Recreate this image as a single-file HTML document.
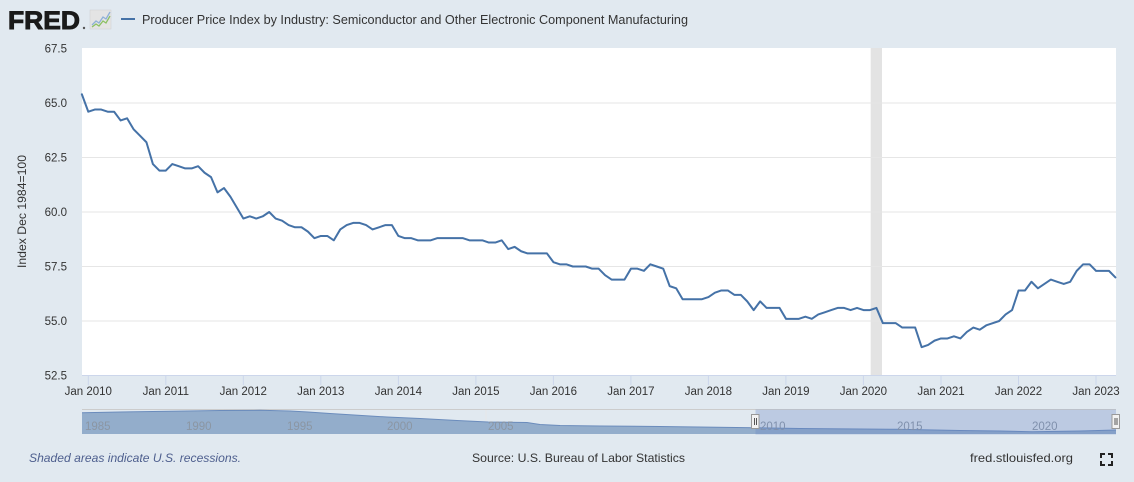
<!DOCTYPE html>
<html><head><meta charset="utf-8">
<style>
html,body{margin:0;padding:0;background:#e1e9f0;}
svg{display:block;font-family:"Liberation Sans",sans-serif;}
</style></head>
<body>
<svg width="1134" height="482" viewBox="0 0 1134 482" xmlns="http://www.w3.org/2000/svg">
<rect x="0" y="0" width="1134" height="482" fill="#e1e9f0"/>
<!-- header -->
<text x="8" y="29" font-size="25" font-weight="bold" fill="#1a1a1a" stroke="#1a1a1a" stroke-width="0.9" textLength="72" lengthAdjust="spacingAndGlyphs">FRED</text>
<circle cx="84" cy="28" r="1.2" fill="#555"/>
<rect x="90" y="10" width="21" height="19" fill="#e4e4e4" stroke="#d0d0d0" stroke-width="0.5"/>
<polyline points="92,25 96,21 99,23 103,17 106,19 110,12" fill="none" stroke="#8fb0d8" stroke-width="1.3"/>
<polyline points="92,27 96,24 99,26 103,21 106,23 110,16" fill="none" stroke="#8cc063" stroke-width="1.3"/>
<line x1="121" y1="19" x2="135" y2="19" stroke="#4572a7" stroke-width="2"/>
<text x="142" y="24" font-size="13" fill="#333" textLength="546" lengthAdjust="spacingAndGlyphs">Producer Price Index by Industry: Semiconductor and Other Electronic Component Manufacturing</text>

<!-- plot area -->
<rect x="82" y="48" width="1034" height="327.5" fill="#ffffff"/>
<rect x="870.7" y="48" width="11.3" height="327.5" fill="#e3e3e3"/>
<g stroke="#e6e6e6" stroke-width="1">
<line x1="82" y1="103" x2="1116" y2="103"/>
<line x1="82" y1="157.5" x2="1116" y2="157.5"/>
<line x1="82" y1="212" x2="1116" y2="212"/>
<line x1="82" y1="266.5" x2="1116" y2="266.5"/>
<line x1="82" y1="321" x2="1116" y2="321"/>
</g>
<line x1="82" y1="375.5" x2="1116" y2="375.5" stroke="#ccd6eb" stroke-width="1"/>
<g stroke="#ccd6eb" stroke-width="1">
<line x1="88.3" y1="375.5" x2="88.3" y2="385"/>
<line x1="165.8" y1="375.5" x2="165.8" y2="385"/>
<line x1="243.3" y1="375.5" x2="243.3" y2="385"/>
<line x1="320.8" y1="375.5" x2="320.8" y2="385"/>
<line x1="398.4" y1="375.5" x2="398.4" y2="385"/>
<line x1="475.9" y1="375.5" x2="475.9" y2="385"/>
<line x1="553.4" y1="375.5" x2="553.4" y2="385"/>
<line x1="630.9" y1="375.5" x2="630.9" y2="385"/>
<line x1="708.4" y1="375.5" x2="708.4" y2="385"/>
<line x1="785.9" y1="375.5" x2="785.9" y2="385"/>
<line x1="863.4" y1="375.5" x2="863.4" y2="385"/>
<line x1="941.0" y1="375.5" x2="941.0" y2="385"/>
<line x1="1018.5" y1="375.5" x2="1018.5" y2="385"/>
<line x1="1096.0" y1="375.5" x2="1096.0" y2="385"/>
</g>
<!-- y labels -->
<g font-size="11.5" fill="#333" text-anchor="end">
<text x="67" y="52.5">67.5</text>
<text x="67" y="107">65.0</text>
<text x="67" y="161.5">62.5</text>
<text x="67" y="216">60.0</text>
<text x="67" y="270.5">57.5</text>
<text x="67" y="325">55.0</text>
<text x="67" y="379.5">52.5</text>
</g>
<text transform="translate(26,211.5) rotate(-90)" font-size="12" fill="#333" text-anchor="middle" textLength="113" lengthAdjust="spacingAndGlyphs">Index Dec 1984=100</text>
<!-- x labels -->
<g font-size="11.5" fill="#333" text-anchor="middle">
<text x="88.3" y="395">Jan 2010</text>
<text x="165.8" y="395">Jan 2011</text>
<text x="243.3" y="395">Jan 2012</text>
<text x="320.8" y="395">Jan 2013</text>
<text x="398.4" y="395">Jan 2014</text>
<text x="475.9" y="395">Jan 2015</text>
<text x="553.4" y="395">Jan 2016</text>
<text x="630.9" y="395">Jan 2017</text>
<text x="708.4" y="395">Jan 2018</text>
<text x="785.9" y="395">Jan 2019</text>
<text x="863.4" y="395">Jan 2020</text>
<text x="941.0" y="395">Jan 2021</text>
<text x="1018.5" y="395">Jan 2022</text>
<text x="1096.0" y="395">Jan 2023</text>
</g>
<!-- data series -->
<polyline transform="translate(81.84,103) scale(6.46,-21.8) translate(0,-65)" vector-effect="non-scaling-stroke" fill="none" stroke="#4572a7" stroke-width="2" stroke-linejoin="round" stroke-linecap="round"
points="0,65.4 1,64.6 2,64.7 3,64.7 4,64.6 5,64.6 6,64.2 7,64.3 8,63.8 9,63.5 10,63.2 11,62.2 12,61.9 13,61.9 14,62.2 15,62.1 16,62.0 17,62.0 18,62.1 19,61.8 20,61.6 21,60.9 22,61.1 23,60.7 24,60.2 25,59.7 26,59.8 27,59.7 28,59.8 29,60.0 30,59.7 31,59.6 32,59.4 33,59.3 34,59.3 35,59.1 36,58.8 37,58.9 38,58.9 39,58.7 40,59.2 41,59.4 42,59.5 43,59.5 44,59.4 45,59.2 46,59.3 47,59.4 48,59.4 49,58.9 50,58.8 51,58.8 52,58.7 53,58.7 54,58.7 55,58.8 56,58.8 57,58.8 58,58.8 59,58.8 60,58.7 61,58.7 62,58.7 63,58.6 64,58.6 65,58.7 66,58.3 67,58.4 68,58.2 69,58.1 70,58.1 71,58.1 72,58.1 73,57.7 74,57.6 75,57.6 76,57.5 77,57.5 78,57.5 79,57.4 80,57.4 81,57.1 82,56.9 83,56.9 84,56.9 85,57.4 86,57.4 87,57.3 88,57.6 89,57.5 90,57.4 91,56.6 92,56.5 93,56.0 94,56.0 95,56.0 96,56.0 97,56.1 98,56.3 99,56.4 100,56.4 101,56.2 102,56.2 103,55.9 104,55.5 105,55.9 106,55.6 107,55.6 108,55.6 109,55.1 110,55.1 111,55.1 112,55.2 113,55.1 114,55.3 115,55.4 116,55.5 117,55.6 118,55.6 119,55.5 120,55.6 121,55.5 122,55.5 123,55.6 124,54.9 125,54.9 126,54.9 127,54.7 128,54.7 129,54.7 130,53.8 131,53.9 132,54.1 133,54.2 134,54.2 135,54.3 136,54.2 137,54.5 138,54.7 139,54.6 140,54.8 141,54.9 142,55.0 143,55.3 144,55.5 145,56.4 146,56.4 147,56.8 148,56.5 149,56.7 150,56.9 151,56.8 152,56.7 153,56.8 154,57.3 155,57.6 156,57.6 157,57.3 158,57.3 159,57.3 160,57.0"/>

<!-- navigator -->
<line x1="82" y1="409.5" x2="1116" y2="409.5" stroke="#cccccc" stroke-width="1"/>
<line x1="486" y1="410" x2="486" y2="434" stroke="#e8e8e8" stroke-width="1"/>
<path d="M82,412.7 L120,412 L187,411 L220,410.5 L260,410.3 L290,411 L308,412 L330,413.5 L387,417 L420,418.5 L457,420.5 L488,422 L527,422.5 L540,424.5 L560,425.5 L600,426 L660,426.5 L755,427.7 L800,428.5 L897,429.3 L960,430.5 L1000,431 L1032,431.7 L1080,431 L1116,430 L1116,434 L82,434 Z" fill="#93adcb" stroke="none"/>
<path d="M82,412.7 L120,412 L187,411 L220,410.5 L260,410.3 L290,411 L308,412 L330,413.5 L387,417 L420,418.5 L457,420.5 L488,422 L527,422.5 L540,424.5 L560,425.5 L600,426 L660,426.5 L755,427.7 L800,428.5 L897,429.3 L960,430.5 L1000,431 L1032,431.7 L1080,431 L1116,430" fill="none" stroke="#6b8cbc" stroke-width="1"/>
<g font-size="11.5" fill="#8b96a3">
<text x="85" y="430">1985</text>
<text x="186" y="430">1990</text>
<text x="287" y="430">1995</text>
<text x="387" y="430">2000</text>
<text x="488" y="430">2005</text>
<text x="760" y="430">2010</text>
<text x="897" y="430">2015</text>
<text x="1032" y="430">2020</text>
</g>
<rect x="755.5" y="409.5" width="360.5" height="25" fill="rgba(102,133,194,0.3)"/>
<rect x="751.5" y="414.5" width="7.5" height="14" fill="#f2f2f2" stroke="#999" stroke-width="1"/>
<line x1="754.5" y1="418" x2="754.5" y2="425" stroke="#555" stroke-width="1"/>
<line x1="756.5" y1="418" x2="756.5" y2="425" stroke="#555" stroke-width="1"/>
<rect x="1112" y="414.5" width="7.5" height="14" fill="#f2f2f2" stroke="#999" stroke-width="1"/>
<line x1="1115" y1="418" x2="1115" y2="425" stroke="#555" stroke-width="1"/>
<line x1="1117" y1="418" x2="1117" y2="425" stroke="#555" stroke-width="1"/>

<!-- footer -->
<text x="29" y="462" font-size="12" font-style="italic" fill="#4e5f8e" textLength="212" lengthAdjust="spacingAndGlyphs">Shaded areas indicate U.S. recessions.</text>
<text x="472" y="462" font-size="12" fill="#333" textLength="213" lengthAdjust="spacingAndGlyphs">Source: U.S. Bureau of Labor Statistics</text>
<text x="970" y="462" font-size="12" fill="#333" textLength="103" lengthAdjust="spacingAndGlyphs">fred.stlouisfed.org</text>
<g stroke="#222" stroke-width="2" fill="none">
<polyline points="1101,458 1101,454 1105,454"/>
<polyline points="1108,454 1112,454 1112,458"/>
<polyline points="1101,461 1101,465 1105,465"/>
<polyline points="1108,465 1112,465 1112,461"/>
</g>
</svg>
</body></html>
